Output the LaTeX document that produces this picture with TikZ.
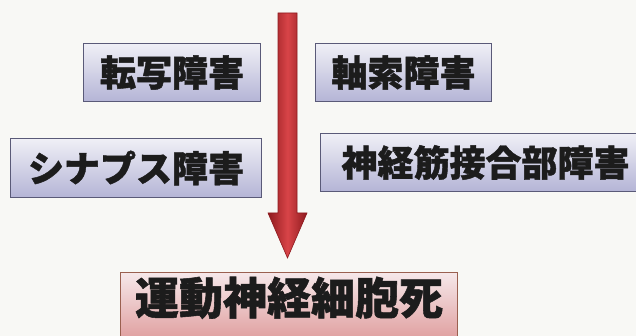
\documentclass[tikz,border=0pt]{standalone}
\usepackage{fontspec}
\newfontfamily\jp{Noto Sans CJK JP}[BoldFeatures={FakeBold=1.2}]
\definecolor{bg}{HTML}{F8F8F5}
\definecolor{boxtop}{HTML}{F0F0F6}
\definecolor{boxbot}{HTML}{B4B4D6}
\definecolor{boxline}{HTML}{5A5A78}
\definecolor{deathtop}{HTML}{F6E8EA}
\definecolor{deathbot}{HTML}{E0A0A0}
\definecolor{deathline}{HTML}{9A6050}
\definecolor{arrdark}{HTML}{8E1A1E}
\definecolor{arrmid}{HTML}{D84448}
\definecolor{ink}{HTML}{1C1C1C}
\begin{document}
\begin{tikzpicture}[x=1pt,y=-1pt,
  cause/.style={draw=boxline, line width=1pt, top color=boxtop, bottom color=boxbot,
    font=\jp\bfseries\fontsize{36}{36}\selectfont, text=ink, inner sep=0pt, anchor=north west},
  death/.style={draw=deathline, line width=1pt, top color=deathtop, bottom color=deathbot,
    font=\jp\bfseries\fontsize{44}{44}\selectfont, text=ink, inner sep=0pt, anchor=north west},
  bigarrow/.style={draw=arrdark, line width=0.6pt, left color=arrdark, right color=arrdark, middle color=arrmid}]
\useasboundingbox (0,0) rectangle (636,336);
\fill[bg] (0,0) rectangle (636,336);
\node[cause, minimum width=177pt, minimum height=58pt] (ts) at (83,43) {転写障害};
\node[cause, minimum width=176pt, minimum height=58pt] (ax) at (315,43) {軸索障害};
\node[cause, minimum width=251pt, minimum height=59pt] (sy) at (10,138) {シナプス障害};
\node[cause, minimum width=330pt, minimum height=58pt] (nm) at (320,133) {神経筋接合部障害};
\node[death, minimum width=337pt, minimum height=66pt, text depth=20pt] (md) at (120,272) {運動神経細胞死};
\coordinate (atop) at (287.5,13);
\coordinate (atip) at (287.5,258);
\draw[bigarrow] ([xshift=-9.5pt]atop) -- ([xshift=9.5pt]atop) -- ([xshift=9.5pt,yshift=45pt]atip)
  -- ([xshift=19.5pt,yshift=45pt]atip) -- (atip) -- ([xshift=-19.5pt,yshift=45pt]atip)
  -- ([xshift=-9.5pt,yshift=45pt]atip) -- cycle;
\end{tikzpicture}
\end{document}
